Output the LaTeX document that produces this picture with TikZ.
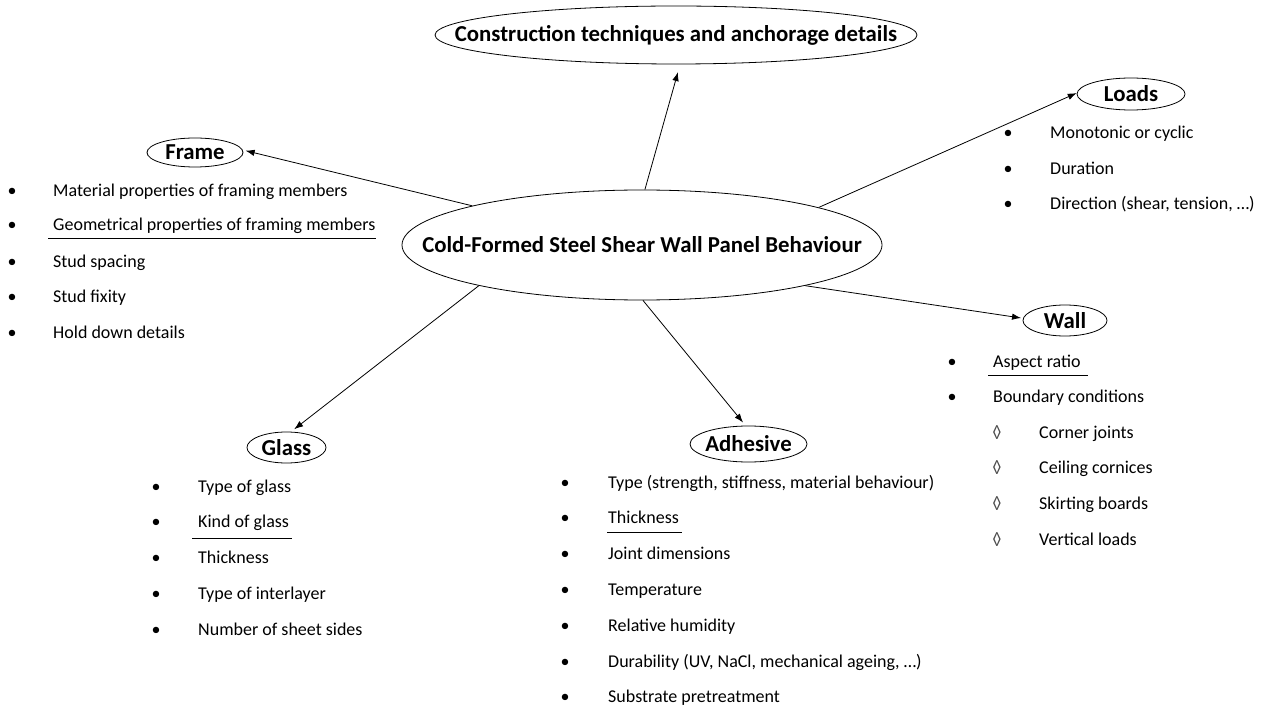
\documentclass[tikz,border=0pt]{standalone}
\usepackage{fontspec}
\setmainfont{Carlito}
\usetikzlibrary{arrows.meta,shapes.geometric}
\begin{document}
\begin{tikzpicture}[x=1pt,y=-1pt,
  oval/.style={draw, ellipse, inner sep=0pt, line width=0.8pt},
  head/.style={font=\fontsize{22.8}{26}\selectfont\bfseries, inner sep=0pt},
  big/.style={font=\fontsize{22.8}{26}\selectfont\bfseries, inner sep=0pt},
  item/.style={anchor=base west, inner sep=0pt, font=\fontsize{18}{21}\selectfont},
  bul/.style={anchor=base, inner sep=0pt, font=\fontsize{18}{21}\selectfont},
  conn/.style={line width=0.8pt, -{Latex[length=9pt,width=6.5pt]}},
  uline/.style={line width=1pt},
]
\useasboundingbox (0,0) rectangle (1265,708);

% main ellipses
\node[oval, minimum width=480pt, minimum height=110pt,
  label={[big]center:Cold-Formed Steel Shear Wall Panel Behaviour}] (c) at (642,245) {};
\node[oval, minimum width=482pt, minimum height=58pt,
  label={[big]center:Construction techniques and anchorage details}] (top) at (676,35) {};
\node[oval, minimum width=96pt, minimum height=29pt,
  label={[head]center:Frame}] (frame) at (195,152.5) {};
\node[oval, minimum width=108pt, minimum height=32pt,
  label={[head]center:Loads}] (loads) at (1131,94) {};
\node[oval, minimum width=84pt, minimum height=31pt,
  label={[head]center:Wall}] (wall) at (1065,320.5) {};
\node[oval, minimum width=79pt, minimum height=31pt,
  label={[head]center:Glass}] (glass) at (286.5,447.5) {};
\node[oval, minimum width=117pt, minimum height=36pt,
  label={[head]center:Adhesive}] (adh) at (748.5,444) {};

% connectors
\draw[conn, shorten >=8pt] (c.87) -- (top.278);
\draw[conn, shorten >=3pt] (c.167.2) -- (frame.3);
\draw[conn] (c.12.9) -- (loads.179);
\draw[conn, shorten >=2pt] (c.346.8) -- (wall.177);
\draw[conn, shorten >=4pt] (c.194) -- (glass.74);
\draw[conn, shorten >=4pt] (c.271) -- (adh.99);

% Frame list
\foreach \t/\y [count=\i] in {Material properties of framing members/197,
  Geometrical properties of framing members/231, Stud spacing/268,
  Stud fixity/303, Hold down details/338}{
  \node[bul] (frb\i) at (12,\y) {•};
  \node[item] (fr\i) at (53,\y) {\t};
}
\draw[uline] (48,239) -- (376,239);

% Loads list
\foreach \t/\y [count=\i] in {Monotonic or cyclic/139, Duration/175,
  {Direction (shear, tension, …)}/210}{
  \node[bul] (lob\i) at (1008,\y) {•};
  \node[item] (lo\i) at (1050,\y) {\t};
}

% Wall list
\foreach \t/\y [count=\i] in {Aspect ratio/367, Boundary conditions/402}{
  \node[bul] (wab\i) at (952,\y) {•};
  \node[item] (wa\i) at (993,\y) {\t};
}
\draw[uline] (988,375) -- (1088,375);
\foreach \t/\y [count=\i] in {Corner joints/438, Ceiling cornices/473,
  Skirting boards/509, Vertical loads/545}{
  \node[bul, text=black!70] (wsb\i) at (997,\y) {◊};
  \node[item] (ws\i) at (1039,\y) {\t};
}

% Glass list
\foreach \t/\y [count=\i] in {Type of glass/492, Kind of glass/527,
  Thickness/563, Type of interlayer/599, Number of sheet sides/635}{
  \node[bul] (glb\i) at (156,\y) {•};
  \node[item] (gl\i) at (198,\y) {\t};
}
\draw[uline] (192,538) -- (292,538);

% Adhesive list
\foreach \t/\y [count=\i] in {{Type (strength, stiffness, material behaviour)}/488,
  Thickness/523, Joint dimensions/559, Temperature/595, Relative humidity/631,
  {Durability (UV, NaCl, mechanical ageing, …)}/667, Substrate pretreatment/702}{
  \node[bul] (adb\i) at (565,\y) {•};
  \node[item] (ad\i) at (608,\y) {\t};
}
\draw[uline] (607,532) -- (682,532);
\end{tikzpicture}
\end{document}
